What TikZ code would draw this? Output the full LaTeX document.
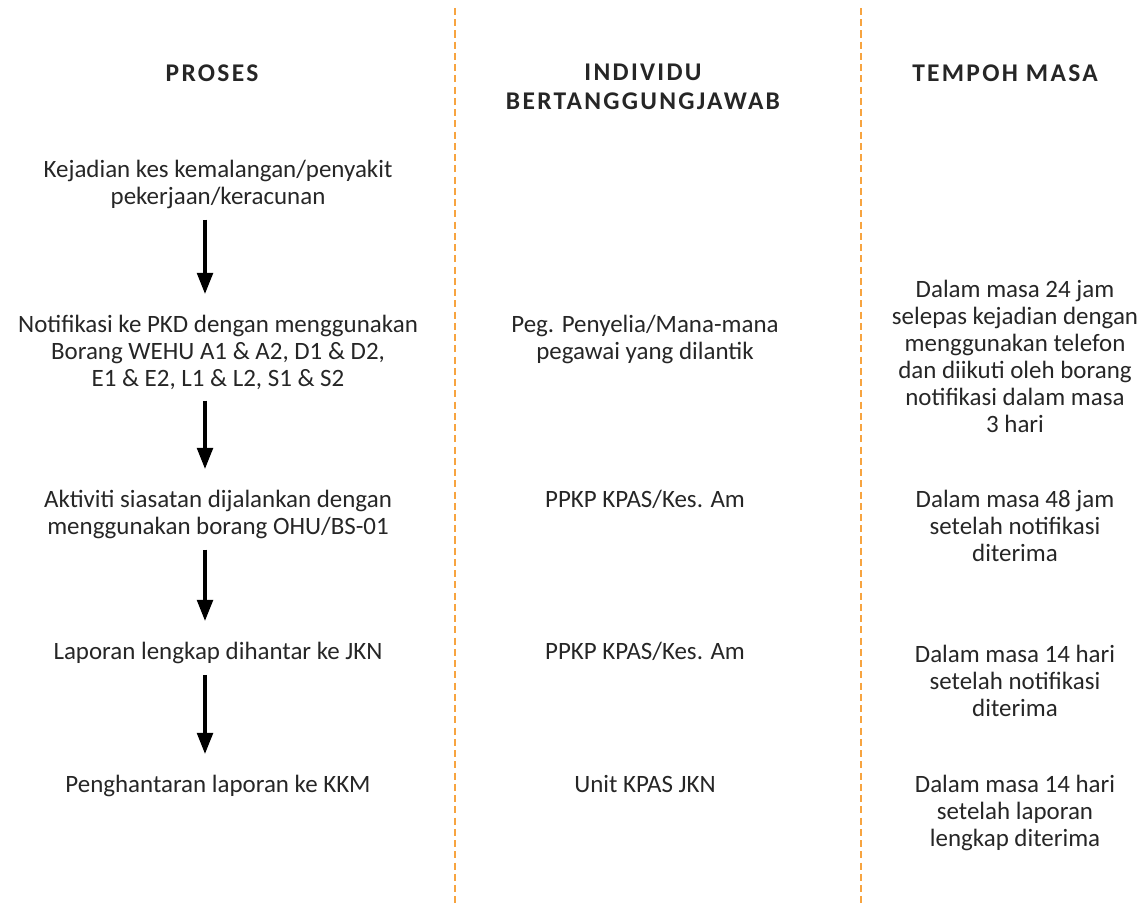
\documentclass[tikz,border=0pt]{standalone}
\usepackage{fontspec}
\setmainfont{Carlito}
\usetikzlibrary{arrows.meta}
\definecolor{garis}{HTML}{F7A440}
\tikzset{
	teks/.style={align=center,inner sep=0pt,anchor=north,font=\fontsize{14.2}{15.3}\selectfont,text=black!85},
	tajuk/.style={teks,font=\fontsize{14.5}{16.5}\selectfont\bfseries\addfontfeature{LetterSpace=9}},
	anak/.style={line width=1.8pt,-{Triangle[width=9pt,length=12pt]},shorten <=6pt,shorten >=12pt},
	sempadan/.style={garis,line width=1.4pt,dash pattern=on 4pt off 2.4pt}
}
\begin{document}
\begin{tikzpicture}[x=0.02cm,y=-0.02cm]
		\useasboundingbox (0,0) rectangle (1143,905);
		% lajur
		\draw[sempadan] (455,8) coordinate (l1a) -- (455,905) coordinate (l1b);
		\draw[sempadan] (861,8) coordinate (l2a) -- (861,905) coordinate (l2b);
		% tajuk
		\node[tajuk] (hproses) at (212,64) {PROSES};
		\node[tajuk] (hindividu) at (643,64) {INDIVIDU\\BERTANGGUNGJAWAB};
		\node[tajuk] (htempoh) at (1005,64) {TEMPOH MASA};
		% proses
		\node[teks] (kejadian) at (218,160) {Kejadian kes kemalangan/penyakit\\pekerjaan/keracunan};
		\node[teks] (notifikasi) at (218,315) {Notifikasi ke PKD dengan menggunakan\\Borang WEHU A1 \& A2, D1 \& D2,\\E1 \& E2, L1 \& L2, S1 \& S2};
		\node[teks] (aktiviti) at (218,490) {Aktiviti siasatan dijalankan dengan\\menggunakan borang OHU/BS-01};
		\node[teks] (laporan) at (218,642) {Laporan lengkap dihantar ke JKN};
		\node[teks] (hantar) at (218,775) {Penghantaran laporan ke KKM};
		\draw[anak] ([xshift=-0.26cm]kejadian.south) -- ([xshift=-0.26cm]notifikasi.north);
		\draw[anak] ([xshift=-0.26cm]notifikasi.south) -- ([xshift=-0.26cm]aktiviti.north);
		\draw[anak] ([xshift=-0.26cm]aktiviti.south) -- ([xshift=-0.26cm]laporan.north);
		\draw[anak] ([xshift=-0.26cm]laporan.south) -- ([xshift=-0.26cm]hantar.north);
		% individu
		\node[teks] (penyelia) at (645,315) {Peg. Penyelia/Mana-mana\\pegawai yang dilantik};
		\node[teks] (ppkp1) at (645,490) {PPKP KPAS/Kes. Am};
		\node[teks] (ppkp2) at (645,642) {PPKP KPAS/Kes. Am};
		\node[teks] (unit) at (645,775) {Unit KPAS JKN};
		% tempoh
		\node[teks] (t24) at (1015,280) {Dalam masa 24 jam\\selepas kejadian dengan\\menggunakan telefon\\dan diikuti oleh borang\\notifikasi dalam masa\\3 hari};
		\node[teks] (t48) at (1015,490) {Dalam masa 48 jam\\setelah notifikasi\\diterima};
		\node[teks] (t14a) at (1015,645) {Dalam masa 14 hari\\setelah notifikasi\\diterima};
		\node[teks] (t14b) at (1015,775) {Dalam masa 14 hari\\setelah laporan\\lengkap diterima};
\end{tikzpicture}
\end{document}
